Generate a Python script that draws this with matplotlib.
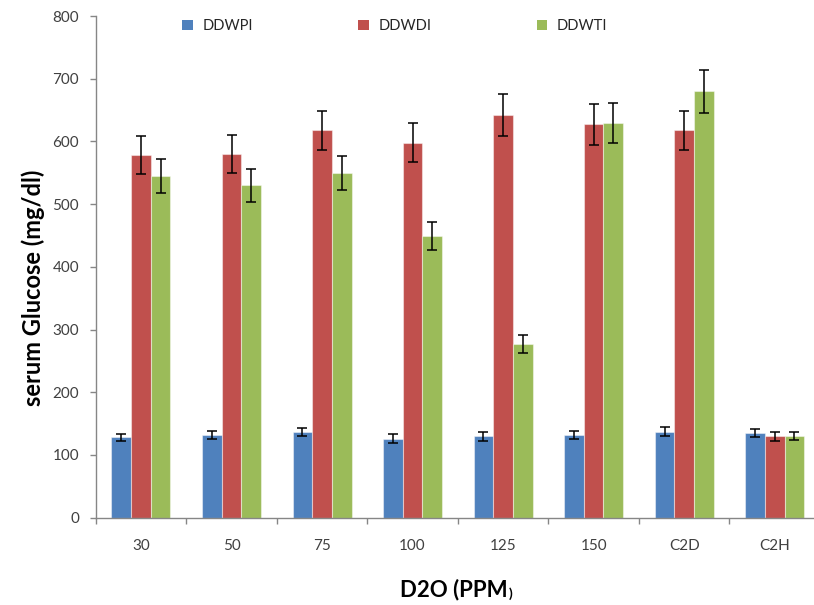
import matplotlib
matplotlib.use("Agg")
import matplotlib.pyplot as plt
import numpy as np

plt.rcParams['font.family'] = ['Lato', 'DejaVu Sans']

categories = ["30", "50", "75", "100", "125", "150", "C2D", "C2H"]
series_names = ["DDWPI", "DDWDI", "DDWTI"]
ddwpi = [128, 132, 137, 126, 130, 132, 137, 135]
ddwpi_err = [5, 6.5, 6.5, 7, 7, 7, 7.5, 7]
ddwdi = [578, 580, 618, 598, 642, 627, 618, 130]
ddwdi_err = [30, 30, 31, 31, 33, 32, 31, 7]
ddwti = [545, 530, 550, 449, 277, 629, 680, 130]
ddwti_err = [27, 26, 27.5, 22, 15, 32, 34, 6.5]
colors = ["#4F81BD", "#C0504D", "#9BBB59"]
yticks = [0, 100, 200, 300, 400, 500, 600, 700, 800]

W, H = 814, 605
fig = plt.figure(figsize=(W / 100, H / 100), dpi=100)
ax_left, ax_right = 95.7, 820.0
ax_top, ax_bot = 16.0, 517.7
ax = fig.add_axes([ax_left / W, 1 - ax_bot / H, (ax_right - ax_left) / W, (ax_bot - ax_top) / H])

x = np.arange(len(categories))
bw = 0.217
vals = [ddwpi, ddwdi, ddwti]
errs = [ddwpi_err, ddwdi_err, ddwti_err]
for i, (v, e, c, n) in enumerate(zip(vals, errs, colors, series_names)):
    ax.bar(x + (i - 1) * bw, v, width=bw, color=c, edgecolor=(1, 1, 1, 0.45), linewidth=0.8,
           label=n, yerr=e, error_kw=dict(ecolor='black', elinewidth=1.1, capsize=3.6, capthick=1.1),
           zorder=2)

ax.set_xlim(-0.5, len(categories) - 0.5)
ax.set_ylim(0, 800)
ax.set_yticks(yticks)
ax.set_xticks(x)
ax.set_xticklabels(categories)
ax.set_xticks(np.arange(len(categories) + 1) - 0.5, minor=True)
ax.tick_params(axis='x', which='major', length=0, pad=15, labelsize=11, labelcolor='#404040')
ax.tick_params(axis='x', which='minor', length=4, width=1, color='#868686', direction='out')
ax.tick_params(axis='y', which='major', length=4, width=1, color='#868686', direction='out',
               pad=8, labelsize=11, labelcolor='#404040')
for s in ['top', 'right']:
    ax.spines[s].set_visible(False)
for s in ['left', 'bottom']:
    ax.spines[s].set_color('#868686')
    ax.spines[s].set_linewidth(1.0)

fig.text(33 / W, 1 - 288 / H, "serum Glucose (mg/dl)", rotation=90, fontsize=17, fontweight='bold',
         ha='center', va='center', color='black')
t = fig.text(400 / W, 1 - 590 / H, "D2O (PPM", fontsize=16, fontweight='bold', ha='left', va='center',
             color='black')
paren = fig.text(0, 0, ")", fontsize=10, fontweight='bold', color='black', ha='left', va='bottom')
fig.canvas.draw()
bb = t.get_window_extent()
paren.set_position(((bb.x1 + 1) / W, (bb.y0 + 1) / H))

leg = fig.legend(loc='center', bbox_to_anchor=(395 / W, 1 - 26 / H), ncol=3, frameon=False,
                 fontsize=10.5, handlelength=0.7, handleheight=0.7, handletextpad=0.7,
                 columnspacing=7.2, labelcolor='#262626')
for h in leg.legend_handles:
    h.set_edgecolor('none')

fig.savefig("out.png", dpi=100)
